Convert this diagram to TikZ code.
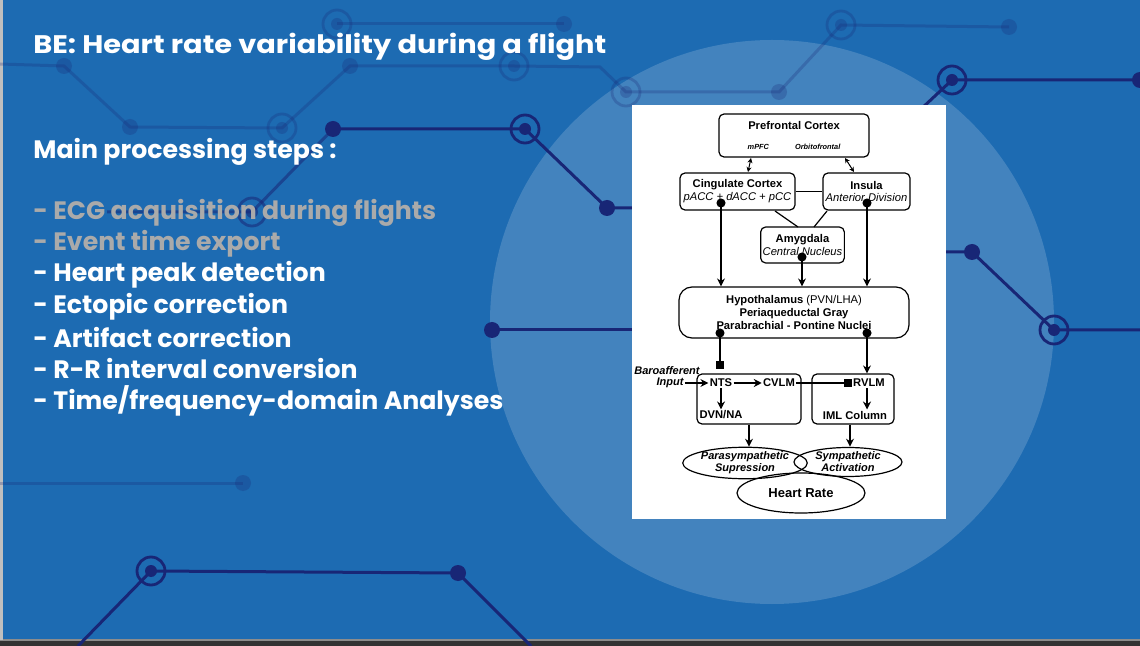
\documentclass[tikz,border=0pt]{standalone}
\usepackage{fontspec}
\usepackage{tikz}
\setmainfont{Poppins}
\newfontfamily\titlefont[FakeStretch=1.135]{Poppins}
\newfontfamily\figfont{Liberation Sans}
\definecolor{slideblue}{RGB}{29,107,178}
\definecolor{navyline}{RGB}{24,38,118}
\definecolor{fadedtext}{RGB}{170,170,170}
\usetikzlibrary{arrows.meta, positioning, shapes.geometric}

\newcommand{\netdot}[1]{\fill[navyline] #1 circle (8);}
\newcommand{\netring}[1]{\fill[navyline] #1 circle (6); \draw[navyline, line width=1.4pt] #1 circle (14);}

\begin{document}
\begin{tikzpicture}[
    x=0.5pt, y=-0.5pt,
    slidetext/.style={anchor=west, inner sep=0pt, text=white, font=\bfseries\fontsize{12.6}{15}\selectfont},
    netline/.style={navyline, line width=1.5pt},
    box/.style={rectangle, draw, fill=white, rounded corners=2.5pt, line width=0.6pt, align=center, inner sep=1pt, font=\figfont\fontsize{5.6}{6.4}\selectfont},
    oval/.style={ellipse, draw, line width=0.6pt, align=center, inner sep=0pt, font=\figfont\bfseries\itshape\fontsize{5.5}{6}\selectfont},
    label/.style={inner sep=0.5pt, font=\figfont\bfseries\fontsize{5.6}{6.4}\selectfont},
    arrow/.style={-{Stealth[length=4pt, width=4pt]}, line width=0.6pt},
    dotarrow/.style={{Circle[length=4.5pt]}-{Stealth[length=4pt, width=4pt]}, line width=0.6pt},
    dotstop/.style={{Circle[length=4.5pt]}-{Square[length=4pt]}, line width=0.6pt},
    stop/.style={-{Square[length=4pt]}, line width=0.6pt},
    twoway/.style={{Stealth[length=2.5pt, width=2.5pt]}-{Stealth[length=2.5pt, width=2.5pt]}, line width=0.5pt}
]
    \useasboundingbox (0,0) rectangle (1140,646);
    \fill[slideblue] (0,0) rectangle (1140,646);
    \fill[white, opacity=0.17] (772,322) circle (282);
    \fill[black!80] (0,640) rectangle (1140,646);
    \fill[black!45] (0,639) rectangle (1140,641);
    \fill[black!25] (0,0) rectangle (3,640);

    % background network, faint part
    \begin{scope}[opacity=0.25]
        \draw[netline] (0,64) -- (64,66) -- (130,127) -- (282,128) -- (350,66) -- (514,66) -- (600,67) -- (626,92) -- (779,92) -- (841,25) -- (1009,27);
        \draw[netline] (337,24) -- (564,24);
        \draw[netline] (0,483) -- (243,483);
        \netdot{(64,66)} \netdot{(130,127)} \netdot{(350,66)}
        \netdot{(564,24)} \netdot{(779,92)} \netdot{(1009,27)} \netdot{(243,483)}
        \netring{(282,128)} \netring{(337,24)} \netring{(514,66)} \netring{(626,92)} \netring{(841,25)}
    \end{scope}
    \begin{scope}[opacity=0.55]
        \draw[netline] (107,212) -- (252,212) -- (333,129);
        \netring{(252,212)}
    \end{scope}

    % background network, dark part
    \draw[netline] (333,129) -- (525,129) -- (607,208) -- (646,208);
    \draw[netline] (492,330) -- (640,330);
    \draw[netline] (78,646) -- (151,571) -- (458,573) -- (531,646);
    \draw[netline] (1140,80) -- (952,80) -- (920,110);
    \draw[netline] (940,252) -- (972,252) -- (1054,330) -- (1140,330);
    \netdot{(333,129)} \netdot{(607,208)} \netdot{(492,330)} \netdot{(458,573)}
    \netdot{(972,252)} \netdot{(1140,80)}
    \netring{(525,129)} \netring{(151,571)} \netring{(952,80)} \netring{(1054,330)}

    % Slide text
    \node[slidetext, font=\titlefont\bfseries\fontsize{12.7}{15}\selectfont] (title) at (33,47) {BE: Heart rate variability during a flight};
    \node[slidetext] (steps) at (33,152) {Main processing steps :};
    \node[slidetext, text=fadedtext] (s1) at (33,213) {- ECG acquisition during flights};
    \node[slidetext, text=fadedtext] (s2) at (33,244) {- Event time export};
    \node[slidetext] (s3) at (33,275) {- Heart peak detection};
    \node[slidetext] (s4) at (33,307) {- Ectopic correction};
    \node[slidetext] (s5) at (33,338) {- Artifact correction};
    \node[slidetext] (s6) at (33,369) {- R-R interval conversion};
    \node[slidetext] (s7) at (33,401) {- Time/frequency-domain Analyses};

    % Figure
    \fill[white] (632,105) rectangle (946,519);

    \node[box, minimum width=75pt, minimum height=21.5pt] (pfc) at (794,135.5) {\textbf{Prefrontal Cortex}\\[3.5pt]{\fontsize{3.7}{4}\selectfont\bfseries\itshape mPFC\hspace{13pt}Orbitofrontal}};
    \node[box, minimum width=57.5pt, minimum height=18.5pt] (cing) at (737.5,191.5) {\textbf{Cingulate Cortex}\\\textit{pACC + dACC + pCC}};
    \node[box, minimum width=43.5pt, minimum height=18.5pt] (insula) at (866.5,191.5) {\textbf{Insula}\\\textit{Anterior Division}};
    \node[box, minimum width=40.5pt, minimum height=18pt] (amyg) at (802.5,245) {\textbf{Amygdala}\\\textit{Central Nucleus}};
    \node[box, rounded corners=6.5pt, minimum width=115pt, minimum height=25.5pt] (hyp) at (794,312.5) {\textbf{Hypothalamus} (PVN/LHA)\\\textbf{Periaqueductal Gray}\\\textbf{Parabrachial - Pontine Nuclei}};
    \node[box, minimum width=52pt, minimum height=25pt] (nuclL) at (749,399) {};
    \node[box, minimum width=41pt, minimum height=25pt] (nuclR) at (853,399) {};

    \node[label] (nts) at (721,383) {NTS};
    \node[label] (cvlm) at (779,383) {CVLM};
    \node[label] (dvn) at (721,415) {DVN/NA};
    \node[label] (rvlm) at (869,383) {RVLM};
    \node[label] (iml) at (855,415) {IML Column};
    \node[label, font=\figfont\bfseries\itshape\fontsize{5.5}{6.4}\selectfont] (baro) at (667,371) {Baroafferent};
    \node[label, font=\figfont\bfseries\itshape\fontsize{5.5}{6.4}\selectfont] (input) at (670,383) {Input};

    \node[oval, minimum width=50pt, minimum height=14pt] (para) at (745,463) {Parasympathetic\\Supression};
    \node[oval, minimum width=54pt, minimum height=14.5pt] (symp) at (848,462) {Sympathetic\\Activation};
    \node[oval, font=\figfont\bfseries\fontsize{6.5}{7}\selectfont, minimum width=64pt, minimum height=20pt] (hr) at (801,493) {Heart Rate};

    % anchor points on the box edges
    \coordinate (pfcL) at (751,158);
    \coordinate (cingN) at (748,172);
    \coordinate (pfcR) at (845,158);
    \coordinate (insN) at (854,172);
    \coordinate (cingS) at (775,211);
    \coordinate (insS) at (827,211);
    \coordinate (amygL) at (798,227);
    \coordinate (amygR) at (814,227);
    \coordinate (cingdot) at (721,198.5);
    \coordinate (insdot) at (867,198.5);
    \coordinate (amygdot) at (802,252.5);
    \coordinate (hypL) at (720,328.5);
    \coordinate (hypR) at (867,328.5);
    \coordinate (sqL) at (720,369);

    \draw[twoway] (pfcL) -- (cingN);
    \draw[twoway] (pfcR) -- (insN);
    \draw[line width=0.6pt] (cing.east) -- (insula.west);
    \draw[line width=0.6pt] (cingS) -- (amygL);
    \draw[line width=0.6pt] (insS) -- (amygR);

    \draw[dotarrow] (cingdot) -- (cingdot |- hyp.north);
    \draw[dotarrow] (amygdot) -- (amygdot |- hyp.north);
    \draw[dotarrow] (insdot) -- (insdot |- hyp.north);
    \draw[dotstop] (hypL) -- (sqL);
    \draw[dotarrow] (hypR) -- (hypR |- nuclR.north);

    \draw[arrow] (input) -- (nts);
    \draw[arrow] (nts) -- (cvlm);
    \draw[stop] (cvlm) -- (rvlm);
    \draw[arrow] (nts) -- (dvn);
    \draw[arrow] (rvlm.south -| 867,0) -- (iml.north -| 867,0);
    \draw[arrow] (nuclL.south) -- (nuclL.south |- para.north);
    \draw[arrow] (nuclR.south -| 850,0) -- (para.north -| 850,0);
\end{tikzpicture}
\end{document}
